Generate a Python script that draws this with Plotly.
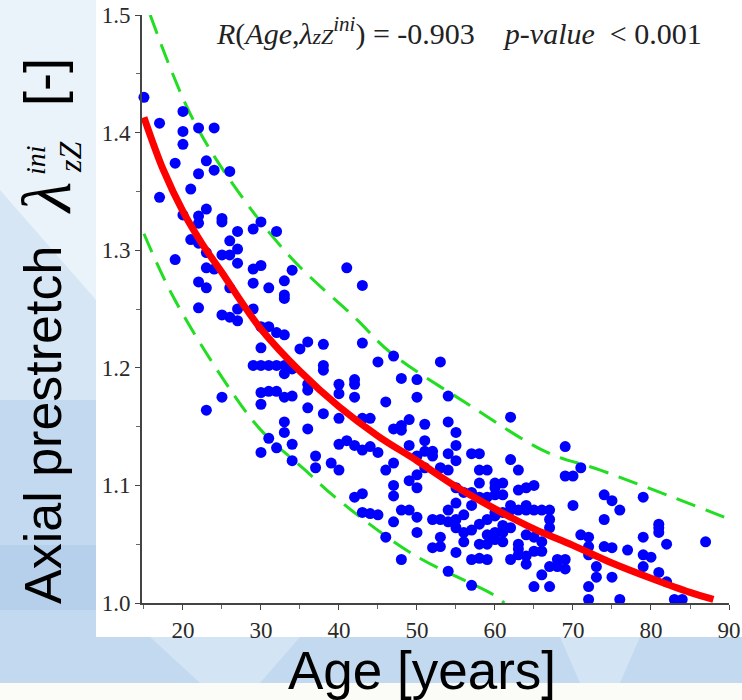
import plotly.graph_objects as go

# ---------------- data ----------------
col_age = [15, 17, 19, 20, 21, 22, 23, 24, 25, 26, 27, 29, 30, 31, 32, 33, 34, 35, 36, 37, 38, 39, 40,
           41, 42, 43, 44, 45, 46, 47, 48, 49, 50, 51, 52, 53, 54, 55, 56, 57, 58, 59, 60, 61, 62, 63,
           64, 65, 66, 67, 68, 69, 70, 71, 72, 73, 74, 75, 76, 77, 79, 80, 81, 82, 83, 84, 87]
col_lambda = [
    [1.430],
    [1.408, 1.345],
    [1.374, 1.292],
    [1.418, 1.401, 1.390, 1.330],
    [1.352, 1.309],
    [1.404, 1.365, 1.329, 1.323, 1.306, 1.273, 1.251],
    [1.376, 1.335, 1.298, 1.285, 1.268, 1.164],
    [1.404, 1.368, 1.284],
    [1.327, 1.324, 1.296, 1.245, 1.175],
    [1.367, 1.308, 1.296, 1.268, 1.243],
    [1.316, 1.301, 1.289, 1.250, 1.240],
    [1.318, 1.284, 1.272, 1.250, 1.202],
    [1.324, 1.287, 1.235, 1.217, 1.202, 1.179, 1.169, 1.128],
    [1.268, 1.235, 1.202, 1.180, 1.140],
    [1.316, 1.230, 1.202, 1.180, 1.132],
    [1.274, 1.262, 1.259, 1.228, 1.202, 1.195, 1.175, 1.154, 1.145],
    [1.283, 1.199, 1.176, 1.135, 1.121],
    [1.216],
    [1.222, 1.186, 1.181, 1.166, 1.148],
    [1.125, 1.115],
    [1.220, 1.202, 1.198, 1.161],
    [1.119],
    [1.186, 1.178, 1.157, 1.135, 1.113],
    [1.285, 1.138],
    [1.190, 1.186, 1.175, 1.134, 1.090],
    [1.270, 1.221, 1.157, 1.130, 1.093, 1.077],
    [1.157, 1.133, 1.076],
    [1.205, 1.128, 1.075],
    [1.171, 1.113, 1.056],
    [1.210, 1.148, 1.119, 1.100, 1.091, 1.069],
    [1.191, 1.151, 1.147, 1.079, 1.037],
    [1.156, 1.134, 1.104, 1.079],
    [1.190, 1.175, 1.125, 1.109, 1.098, 1.073, 1.060],
    [1.152, 1.138, 1.129, 1.115],
    [1.129, 1.125, 1.071, 1.047],
    [1.205, 1.115, 1.071, 1.056, 1.048],
    [1.176, 1.154, 1.127, 1.113, 1.079, 1.069, 1.027],
    [1.145, 1.134, 1.121, 1.098, 1.085, 1.071, 1.064, 1.043],
    [1.094, 1.075, 1.060, 1.052],
    [1.127, 1.094, 1.083, 1.062, 1.037, 1.015],
    [1.127, 1.113, 1.102, 1.090, 1.067, 1.050, 1.038],
    [1.113, 1.090, 1.071, 1.058, 1.037, 1.050],
    [1.102, 1.098, 1.077, 1.060, 1.054, 1.092, 1.074],
    [1.102, 1.077, 1.066, 1.052, 1.092, 1.060],
    [1.158, 1.122, 1.083, 1.064, 1.037, 1.079],
    [1.113, 1.096, 1.079, 1.050, 1.041, 1.046],
    [1.098, 1.083, 1.058, 1.033, 1.079, 1.040],
    [1.100, 1.079, 1.056, 1.014, 1.044],
    [1.079, 1.052, 1.024, 1.044],
    [1.079, 1.071, 1.064, 1.031, 1.014],
    [1.037, 1.031],
    [1.133, 1.108, 1.037, 1.029],
    [1.108, 1.083],
    [1.115, 1.058],
    [1.056, 1.048, 1.014, 1.003, 1.041],
    [1.031, 1.022],
    [1.092, 1.071, 1.048],
    [1.087, 1.047, 1.022],
    [1.079, 1.003],
    [1.045],
    [1.090, 1.056, 1.041, 1.031],
    [1.039],
    [1.067, 1.064, 1.060, 1.026],
    [1.050, 1.018],
    [1.003],
    [1.003],
    [1.052],
]

fit_age = [15, 17.5, 20, 22.5, 25, 27.5, 30, 35, 40, 45, 50, 55, 60, 65, 70, 75, 80, 85, 88]
fit_lambda = [1.413, 1.368, 1.333, 1.305, 1.281, 1.256, 1.233, 1.197, 1.167, 1.142, 1.121, 1.099,
              1.080, 1.063, 1.049, 1.034, 1.021, 1.009, 1.003]

upper_age = [15.8, 21, 26.1, 33.8, 42.3, 46.6, 56.8, 66.7, 73.5, 90.2]
upper_lambda = [1.500, 1.415, 1.359, 1.294, 1.241, 1.213, 1.168, 1.128, 1.113, 1.071]

lower_age = [15, 18.7, 25.2, 30, 35.5, 39.5, 49.6, 59.8, 61.2]
lower_lambda = [1.314, 1.261, 1.190, 1.147, 1.114, 1.090, 1.041, 1.007, 1.000]

x_ticks = [20, 30, 40, 50, 60, 70, 80, 90]
y_ticks = [1.0, 1.1, 1.2, 1.3, 1.4, 1.5]

# flatten scatter columns
pt_age, pt_lambda = [], []
for a, vals in zip(col_age, col_lambda):
    for v in vals:
        pt_age.append(a)
        pt_lambda.append(v)

# ---------------- layout geometry (pixels) ----------------
W, H = 742, 700
L, R, T, B = 142, 729, 15, 603


def px(x):
    return (x - L) / (R - L)


def py(y):
    return (B - y) / (B - T)


SERIF = "Liberation Serif, Times New Roman, serif"
SANS = "Liberation Sans, Arial, sans-serif"

fig = go.Figure()

fig.add_trace(go.Scatter(x=upper_age, y=upper_lambda, mode="lines",
                         line=dict(color="#22dd22", width=3, dash="20px,11px", shape="spline"),
                         hoverinfo="skip", showlegend=False))
fig.add_trace(go.Scatter(x=lower_age, y=lower_lambda, mode="lines",
                         line=dict(color="#22dd22", width=3, dash="20px,11px", shape="spline"),
                         hoverinfo="skip", showlegend=False))
fig.add_trace(go.Scatter(x=pt_age, y=pt_lambda, mode="markers",
                         marker=dict(color="#0000ff", size=11, line=dict(width=0)),
                         cliponaxis=False, showlegend=False))
fig.add_trace(go.Scatter(x=fit_age, y=fit_lambda, mode="lines",
                         line=dict(color="#ff0000", width=7, shape="spline"),
                         cliponaxis=False, showlegend=False))

shapes = []
# slide background facets
bg = [
    ("#eaf2fa", [(0, 0), (96, 0), (96, 330), (0, 210)]),
    ("#d6e6f5", [(0, 190), (96, 300), (96, 420), (0, 420)]),
    ("#c3d9f0", [(0, 400), (96, 400), (96, 700), (0, 700)]),
    ("#b6d0ec", [(0, 545), (96, 545), (96, 610), (0, 610)]),
    ("#c2d9f0", [(96, 637), (742, 637), (742, 683), (96, 683)]),
    ("#d3e4f4", [(150, 637), (300, 637), (260, 683), (200, 683)]),
    ("#d3e4f4", [(560, 637), (640, 637), (620, 683), (580, 683)]),
    ("#fbfbf7", [(0, 683), (742, 683), (742, 700), (0, 700)]),
    ("#ffffff", [(96, 0), (742, 0), (742, 637), (96, 637)]),
]
for col, pts in bg:
    path = "M " + " L ".join(f"{px(a):.5f},{py(b):.5f}" for a, b in pts) + " Z"
    shapes.append(dict(type="path", xref="paper", yref="paper", path=path,
                       fillcolor=col, line=dict(width=0), layer="below"))

ann = []
# correlation text
ann.append(dict(
    text="<i>R</i>(<i>Age</i>,<i>λ<span style='font-size:22px'>zZ</span></i><sup><i>ini</i></sup>)\u00a0=\u00a0-0.903"
         "\u00a0\u00a0\u00a0\u00a0<i>p-value</i>\u00a0\u00a0&lt;\u00a00.001",
    x=px(214), y=py(31), xref="paper", yref="paper", xanchor="left", yanchor="middle",
    showarrow=False, font=dict(family=SERIF, size=30, color="#222222")))
# x title
ann.append(dict(text="Age [years]", x=px(422), y=py(670), xref="paper", yref="paper",
                xanchor="center", yanchor="middle", showarrow=False,
                font=dict(family=SANS, size=53, color="#000000")))
# y title pieces (rotated)
ann.append(dict(text="Axial prestretch", x=px(43), y=py(425), xref="paper", yref="paper",
                xanchor="center", yanchor="middle", textangle=-90, showarrow=False,
                font=dict(family=SANS, size=52, color="#000000")))
ann.append(dict(text="<i>λ</i>", x=px(47), y=py(198), xref="paper", yref="paper",
                xanchor="center", yanchor="middle", textangle=-90, showarrow=False,
                font=dict(family=SERIF, size=70, color="#000000")))
ann.append(dict(text="<i>zZ</i>", x=px(70), y=py(157), xref="paper", yref="paper",
                xanchor="center", yanchor="middle", textangle=-90, showarrow=False,
                font=dict(family=SERIF, size=32, color="#000000")))
ann.append(dict(text="<i>ini</i>", x=px(35), y=py(160), xref="paper", yref="paper",
                xanchor="center", yanchor="middle", textangle=-90, showarrow=False,
                font=dict(family=SERIF, size=28, color="#000000")))
ann.append(dict(text="[-]", x=px(43), y=py(82), xref="paper", yref="paper",
                xanchor="center", yanchor="middle", textangle=-90, showarrow=False,
                font=dict(family=SANS, size=54, color="#000000")))

fig.update_layout(
    width=W, height=H,
    margin=dict(l=L, r=W - R, t=T, b=H - B, pad=0, autoexpand=False),
    paper_bgcolor="#c6dcf1", plot_bgcolor="#ffffff",
    shapes=shapes, annotations=ann, showlegend=False,
)
fig.update_xaxes(range=[14.75, 90], tickvals=x_ticks, ticktext=[str(v) for v in x_ticks],
                 showline=True, linecolor="#444444", linewidth=2, showgrid=False, zeroline=False,
                 ticks="outside", ticklen=5, tickwidth=1, tickcolor="#444444", automargin=False,
                 minor=dict(dtick=5, tick0=15, ticks="outside", ticklen=4, tickcolor="#666666"),
                 tickfont=dict(family=SERIF, size=23, color="#2a2a2a"))
fig.update_yaxes(range=[1.0, 1.5], tickvals=y_ticks, ticktext=[f"{v:.1f}" for v in y_ticks],
                 showline=True, linecolor="#444444", linewidth=2, showgrid=False, zeroline=False,
                 ticks="outside", ticklen=5, tickwidth=1, tickcolor="#444444", automargin=False,
                 minor=dict(dtick=0.05, tick0=1.0, ticks="outside", ticklen=4, tickcolor="#666666"),
                 tickfont=dict(family=SERIF, size=23, color="#2a2a2a"))

fig.write_html("out.html", config={"displayModeBar": False},
               post_script="document.body.style.margin='0';document.body.style.padding='0';"
                           "document.documentElement.style.overflow='hidden';")
